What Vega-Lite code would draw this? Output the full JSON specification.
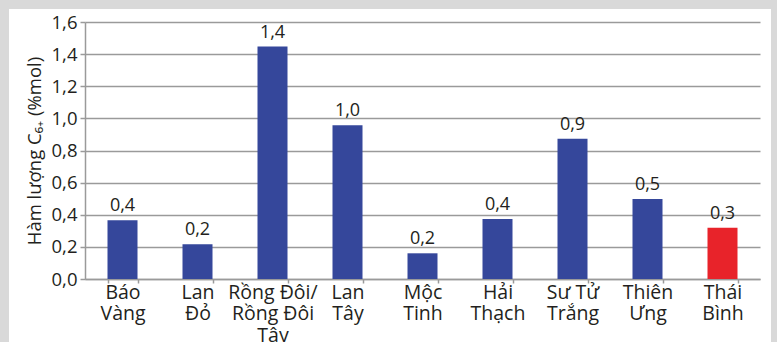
{
  "$schema": "https://vega.github.io/schema/vega-lite/v6.json",
  "width": 762,
  "height": 333,
  "autosize": {"type": "none"},
  "padding": {"left": 9, "top": 9, "right": 6, "bottom": 0},
  "background": "#d9d9d9",
  "data": {
    "values": [
      {"mo": "Báo Vàng", "c6": 0.365, "nhom": "khac"},
      {"mo": "Lan Đỏ", "c6": 0.216, "nhom": "khac"},
      {"mo": "Rồng Đôi/Rồng Đôi Tây", "c6": 1.447, "nhom": "khac"},
      {"mo": "Lan Tây", "c6": 0.957, "nhom": "khac"},
      {"mo": "Mộc Tinh", "c6": 0.16, "nhom": "khac"},
      {"mo": "Hải Thạch", "c6": 0.373, "nhom": "khac"},
      {"mo": "Sư Tử Trắng", "c6": 0.873, "nhom": "khac"},
      {"mo": "Thiên Ưng", "c6": 0.498, "nhom": "khac"},
      {"mo": "Thái Bình", "c6": 0.319, "nhom": "thaibinh"}
    ]
  },
  "encoding": {
    "x": {
      "field": "mo",
      "type": "nominal",
      "sort": null,
      "scale": {"range": [76, 751], "paddingInner": 0.6, "paddingOuter": 0.3},
      "axis": {
        "title": null,
        "offset": -63,
        "labelAngle": 0,
        "labelExpr": "datum.label == 'Báo Vàng' ? ['Báo', 'Vàng'] : datum.label == 'Lan Đỏ' ? ['Lan', 'Đỏ'] : datum.label == 'Rồng Đôi/Rồng Đôi Tây' ? ['Rồng Đôi/', 'Rồng Đôi', 'Tây'] : datum.label == 'Lan Tây' ? ['Lan', 'Tây'] : datum.label == 'Mộc Tinh' ? ['Mộc', 'Tinh'] : datum.label == 'Hải Thạch' ? ['Hải', 'Thạch'] : datum.label == 'Sư Tử Trắng' ? ['Sư Tử', 'Trắng'] : datum.label == 'Thiên Ưng' ? ['Thiên', 'Ưng'] : datum.label == 'Thái Bình' ? ['Thái', 'Bình'] : ''",
        "labelFontSize": 19.5,
        "labelLineHeight": 21.5,
        "labelPadding": 0,
        "labelBaseline": "top",
        "tickBand": "extent",
        "tickSize": 4,
        "grid": false
      }
    },
    "y": {
      "field": "c6",
      "type": "quantitative",
      "scale": {"domain": [0, 1.6], "range": [270, 13], "nice": false},
      "axis": {
        "title": "Hàm lượng C₆₊ (%mol)",
        "offset": -76,
        "values": [0, 0.2, 0.4, 0.6, 0.8, 1.0, 1.2, 1.4, 1.6],
        "format": ".1f",
        "labelFontSize": 18.5,
        "titleFontSize": 18.5,
        "tickSize": 5,
        "labelPadding": 3,
        "titlePadding": 7,
        "grid": true
      }
    }
  },
  "layer": [
    {
      "mark": {"type": "bar"},
      "encoding": {
        "color": {
          "field": "nhom",
          "type": "nominal",
          "scale": {"domain": ["khac", "thaibinh"], "range": ["#35479b", "#e8232a"]},
          "legend": null
        }
      }
    },
    {
      "mark": {"type": "text", "baseline": "bottom", "dy": -5, "fontSize": 18, "color": "#231f20", "font": "Open Sans"},
      "encoding": {
        "text": {"field": "c6", "type": "quantitative", "format": ".1f"}
      }
    }
  ],
  "config": {
    "locale": {
      "number": {"decimal": ",", "thousands": ".", "grouping": [3], "currency": ["", " €"]}
    },
    "view": {"fill": "white", "stroke": null},
    "axis": {
      "labelFont": "Open Sans",
      "titleFont": "Open Sans",
      "titleFontWeight": "normal",
      "labelColor": "#231f20",
      "titleColor": "#231f20",
      "domainColor": "#9a9a9a",
      "domainWidth": 1.5,
      "tickColor": "#9a9a9a",
      "tickWidth": 1.5,
      "gridColor": "#9a9a9a",
      "gridWidth": 1.5
    }
  }
}
